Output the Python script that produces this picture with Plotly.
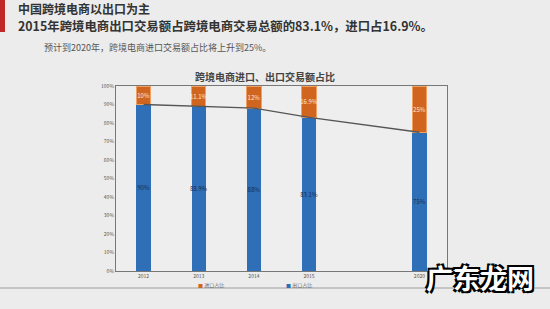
import plotly.graph_objects as go

years = ["2012", "2013", "2014", "2015", "2020"]
x_pos = [0, 1, 2, 3, 5]
export_share = [90, 88.9, 88, 83.1, 75]
import_share = [10, 11.1, 12, 16.9, 25]
export_labels = ["90%", "88.9%", "88%", "83.1%", "75%"]
import_labels = ["10%", "11.1%", "12%", "16.9%", "25%"]
y_ticks = [0, 10, 20, 30, 40, 50, 60, 70, 80, 90, 100]

BLUE = "#2f6fb8"
ORANGE = "#d0651f"
BG = "#ececec"
FONT = "Noto Sans CJK SC"

fig = go.Figure()
fig.add_trace(go.Bar(
    x=x_pos, y=export_share, width=0.26, marker=dict(color=BLUE, line=dict(width=0)),
    text=export_labels, textposition="inside", insidetextanchor="middle", textangle=0,
    textfont=dict(size=6, color="#1a2a4a", family=FONT), name="出口占比",
))
fig.add_trace(go.Bar(
    x=x_pos, y=import_share, width=0.26,
    marker=dict(color=ORANGE, line=dict(color="#f0a060", width=1)),
    text=import_labels, textposition="inside", insidetextanchor="middle", textangle=0,
    textfont=dict(size=6, color="#ffe8d8", family=FONT), name="进口占比",
))
fig.add_trace(go.Scatter(
    x=x_pos, y=export_share, mode="lines", line=dict(color="#555555", width=1.3),
    showlegend=False, hoverinfo="skip",
))

fig.update_layout(
    barmode="stack",
    uniformtext=dict(minsize=5, mode="show"),
    width=550, height=309,
    margin=dict(l=116, r=103, t=86, b=38),
    paper_bgcolor=BG, plot_bgcolor="#eeeeee",
    showlegend=False,
    font=dict(family=FONT, color="#444"),
    xaxis=dict(
        range=[-0.5, 5.5], tickvals=x_pos, ticktext=years, tickfont=dict(size=5, color="#555"),
        showgrid=False, showline=True, linecolor="#777", linewidth=1, mirror=True,
        zeroline=False, ticks="", ticklen=0,
    ),
    yaxis=dict(
        range=[0, 100], tickvals=y_ticks, ticktext=[f"{v}%" for v in y_ticks],
        tickfont=dict(size=5, color="#555"), showgrid=False, showline=True,
        linecolor="#777", linewidth=1, mirror=True, zeroline=False, ticks="",
    ),
    shapes=[
        dict(type="rect", xref="paper", yref="paper", x0=-116/331, x1=-111/331,
             y0=1 + 54/185, y1=1 + 86/185, fillcolor="#c0282a", line=dict(width=0)),
        dict(type="line", xref="paper", yref="paper", x0=-116/331, x1=434/331,
             y0=-17/185, y1=-17/185, line=dict(color="#b8b8b8", width=1.5)),
    ],
    annotations=[
        dict(text="<b>中国跨境电商以出口为主</b>",
             xref="paper", yref="paper", x=-100/331, y=1 + 77.5/185,
             xanchor="left", yanchor="middle", showarrow=False,
             font=dict(size=12, color="#333", family=FONT)),
        dict(text="<b>2015年跨境电商出口交易额占跨境电商交易总额的83.1%，进口占16.9%。</b>",
             xref="paper", yref="paper", x=-100/331, y=1 + 59.5/185,
             xanchor="left", yanchor="middle", showarrow=False,
             font=dict(size=12.4, color="#333", family=FONT)),
        dict(text="预计到2020年，跨境电商进口交易额占比将上升到25%。", xref="paper", yref="paper",
             x=-74/331, y=1 + 38/185, xanchor="left", yanchor="middle", showarrow=False,
             font=dict(size=9, color="#555", family=FONT)),
        dict(text="<b>跨境电商进口、出口交易额占比</b>", xref="paper", yref="paper",
             x=(265 - 116) / 331, y=1 + 10/185, xanchor="center", yanchor="middle",
             showarrow=False, font=dict(size=10, color="#444", family=FONT)),
        dict(text=f"<span style='color:{ORANGE}'>■</span> 进口占比", xref="paper", yref="paper",
             x=(196 - 116) / 331, y=-13.5/185, xanchor="left", yanchor="middle",
             showarrow=False, font=dict(size=5, color="#666", family=FONT)),
        dict(text=f"<span style='color:{BLUE}'>■</span> 出口占比", xref="paper", yref="paper",
             x=(284 - 116) / 331, y=-13.5/185, xanchor="left", yanchor="middle",
             showarrow=False, font=dict(size=5, color="#666", family=FONT)),
        dict(text="<b>广东龙网</b>", xref="paper", yref="paper",
             x=(480 - 116) / 331, y=-(277 - 271) / 185, xanchor="center", yanchor="middle",
             showarrow=False,
             font=dict(size=27, color="white", family=FONT,
                       shadow="2px 2px 0 #000, -2px -2px 0 #000, 2px -2px 0 #000, -2px 2px 0 #000")),
    ],
)

fig.write_html("out.html")
